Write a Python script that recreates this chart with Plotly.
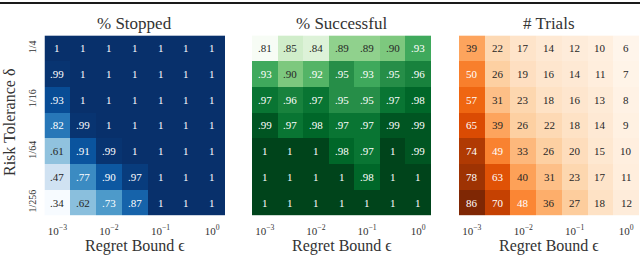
import plotly.graph_objects as go

# ---------------- data ----------------
eps_tickvals = [0, 2, 4, 6]
eps_labels = ["10<sup>−3</sup>", "10<sup>−2</sup>", "10<sup>−1</sup>", "10<sup>0</sup>"]
delta_tickvals = [0, 2, 4, 6]
delta_labels = ["1/4", "1/16", "1/64", "1/256"]

stopped = [
    [1, 1, 1, 1, 1, 1, 1],
    [.99, 1, 1, 1, 1, 1, 1],
    [.93, 1, 1, 1, 1, 1, 1],
    [.82, .99, 1, 1, 1, 1, 1],
    [.61, .91, .99, 1, 1, 1, 1],
    [.47, .77, .90, .97, 1, 1, 1],
    [.34, .62, .73, .87, 1, 1, 1],
]
successful = [
    [.81, .85, .84, .89, .89, .90, .93],
    [.93, .90, .92, .95, .93, .95, .96],
    [.97, .96, .97, .95, .95, .97, .98],
    [.99, .97, .98, .97, .97, .99, .99],
    [1, 1, 1, .98, .97, 1, .99],
    [1, 1, 1, 1, .98, 1, 1],
    [1, 1, 1, 1, 1, 1, 1],
]
trials = [
    [39, 22, 17, 14, 12, 10, 6],
    [50, 26, 19, 16, 14, 11, 7],
    [57, 31, 23, 18, 16, 13, 8],
    [65, 39, 26, 22, 18, 14, 9],
    [74, 49, 33, 26, 20, 15, 10],
    [78, 63, 40, 31, 23, 17, 11],
    [86, 70, 48, 36, 27, 18, 12],
]
titles = ["% Stopped", "% Successful", "# Trials"]

BLUES = ["#f7fbff", "#deebf7", "#c6dbef", "#9ecae1", "#6baed6", "#4292c6", "#2171b5", "#08519c", "#08306b"]
GREENS = ["#f7fcf5", "#e5f5e0", "#c7e9c0", "#a1d99b", "#74c476", "#41ab5d", "#238b45", "#006d2c", "#00441b"]
ORANGES = ["#fff5eb", "#fee6ce", "#fdd0a2", "#fdae6b", "#fd8d3c", "#f16913", "#d94801", "#a63603", "#7f2704"]

FONT = "Liberation Serif"
W, H = 640, 255


def hex2rgb(h):
    h = h.lstrip("#")
    return [int(h[i:i + 2], 16) / 255 for i in (0, 2, 4)]


def cmap(colors, t):
    t = min(max(t, 0), 1)
    n = len(colors) - 1
    i = min(int(t * n), n - 1)
    f = t * n - i
    a, b = hex2rgb(colors[i]), hex2rgb(colors[i + 1])
    return [a[k] + (b[k] - a[k]) * f for k in range(3)]


def lum(rgb):
    c = [v / 12.92 if v <= 0.03928 else ((v + 0.055) / 1.055) ** 2.4 for v in rgb]
    return 0.2126 * c[0] + 0.7152 * c[1] + 0.0722 * c[2]


def fmt_frac(v):
    if v >= 1:
        return "1"
    return ("%.2f" % v)[1:]


def fmt_int(v):
    return "%d" % v


panels = [
    (stopped, BLUES, fmt_frac),
    (successful, GREENS, fmt_frac),
    (trials, ORANGES, fmt_int),
]
xdomains = [(44.5 / W, 225 / W), (252 / W, 431 / W), (459 / W, 639 / W)]
ydom = (1 - 215.6 / H, 1 - 35.4 / H)

fig = go.Figure()
annotations = []
cols = list(range(7))
rows = list(range(7))

for p, (data, colors, fmt) in enumerate(panels):
    ax = "" if p == 0 else str(p + 1)
    flat = [v for r in data for v in r]
    zmin, zmax = min(flat), max(flat)
    cs = [[i / (len(colors) - 1), c] for i, c in enumerate(colors)]
    fig.add_trace(go.Heatmap(
        z=data, x=cols, y=rows, colorscale=cs, zmin=zmin, zmax=zmax,
        showscale=False, xaxis="x" + ax, yaxis="y" + ax, hoverinfo="skip",
    ))
    for r in rows:
        for c in cols:
            v = data[r][c]
            rgb = cmap(colors, (v - zmin) / (zmax - zmin))
            tc = "#262626" if lum(rgb) > 0.408 else "#ffffff"
            annotations.append(dict(
                x=c, y=r, xref="x" + ax, yref="y" + ax, text=fmt(v),
                xanchor="center", yanchor="middle",
                showarrow=False, font=dict(family=FONT, size=11, color=tc),
            ))
    xd = xdomains[p]
    yaxis_cfg = dict(domain=list(ydom), anchor="x" + ax, range=[6.5, -0.5],
                     ticks="", showgrid=False, zeroline=False, showline=False,
                     automargin=False)
    if p == 0:
        yaxis_cfg.update(tickvals=delta_tickvals, ticktext=delta_labels, tickangle=-90,
                         ticklabelstandoff=6,
                         tickfont=dict(family=FONT, size=10, color="#333"))
    else:
        yaxis_cfg.update(showticklabels=False)
    fig.update_layout(**{
        "xaxis" + ax: dict(domain=list(xd), anchor="y" + ax, range=[-0.5, 6.5],
                           tickvals=eps_tickvals, ticktext=eps_labels, ticks="", showgrid=False,
                           zeroline=False, showline=False, automargin=False,
                           ticklabelstandoff=7,
                           tickfont=dict(family=FONT, size=11, color="#333")),
        "yaxis" + ax: yaxis_cfg,
    })
    xc = (xd[0] + xd[1]) / 2
    annotations.append(dict(x=xc, y=1 - 23 / H, xref="paper", yref="paper",
                            xanchor="center", yanchor="middle",
                            text=titles[p], showarrow=False,
                            font=dict(family=FONT, size=17, color="#333")))
    annotations.append(dict(x=xc, y=1 - 246 / H, xref="paper", yref="paper",
                            xanchor="center", yanchor="middle",
                            text="Regret Bound ϵ", showarrow=False,
                            font=dict(family=FONT, size=16, color="#333")))

annotations.append(dict(x=9 / W, y=1 - 123 / H, xref="paper", yref="paper",
                        xanchor="center", yanchor="middle",
                        text="Risk Tolerance δ", showarrow=False, textangle=-90,
                        font=dict(family=FONT, size=16, color="#333")))

fig.update_layout(
    template="none",
    width=W, height=H, margin=dict(l=0, r=0, t=0, b=0),
    paper_bgcolor="white", plot_bgcolor="white",
    annotations=annotations, showlegend=False,
    shapes=[dict(type="line", xref="paper", yref="paper", x0=0, x1=1,
                 y0=1 - 3 / H, y1=1 - 3 / H, layer="above",
                 line=dict(color="#1a1a1a", width=2))],
)

fig.write_html("out.html", config={"displayModeBar": False},
               post_script="document.body.style.margin='0';document.body.style.overflow='hidden';")
